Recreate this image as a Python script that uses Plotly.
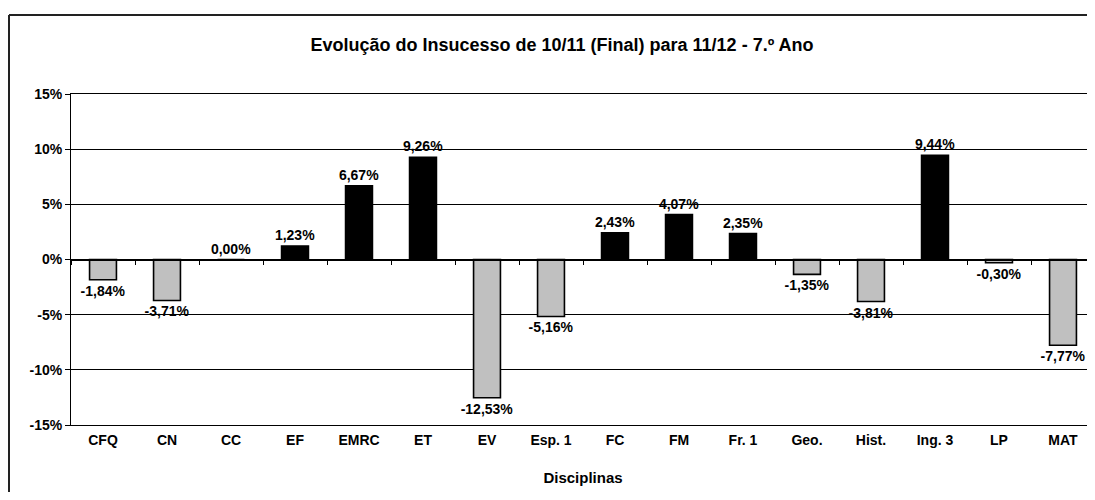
import plotly.graph_objects as go

categories = ["CFQ", "CN", "CC", "EF", "EMRC", "ET", "EV", "Esp. 1", "FC", "FM",
              "Fr. 1", "Geo.", "Hist.", "Ing. 3", "LP", "MAT"]
values = [-1.84, -3.71, 0.00, 1.23, 6.67, 9.26, -12.53, -5.16, 2.43, 4.07,
          2.35, -1.35, -3.81, 9.44, -0.30, -7.77]
y_tickvals = [-15, -10, -5, 0, 5, 10, 15]
y_ticktext = ["-15%", "-10%", "-5%", "0%", "5%", "10%", "15%"]

labels = [f"{v:.2f}%".replace(".", ",") for v in values]
colors = ["#000000" if v >= 0 else "#C0C0C0" for v in values]

FONT = "Liberation Sans, Arial, sans-serif"

fig = go.Figure()
fig.add_trace(go.Bar(
    x=categories, y=values, width=0.42,
    marker=dict(color=colors, line=dict(color="#000000", width=1.6)),
    text=labels, textposition="outside", cliponaxis=False, constraintext="none",
    textfont=dict(family=FONT, size=14, color="#000000", weight="bold"),
    showlegend=False, hoverinfo="skip",
))
fig.add_trace(go.Scatter(
    x=categories, y=values, xaxis="x2", mode="markers",
    marker=dict(opacity=0), showlegend=False, hoverinfo="skip",
))

# page body has an 8px margin; the figure sits at (8, 8)
OFF = 8
W, H = 1095 - OFF, 500 - 2 * OFF
ml, mr, mt = 71 - OFF, 0, 94 - OFF
mb = H - (425 - OFF)
pw, ph = W - ml - mr, H - mt - mb

# chart-area frame (top and left edges visible in the reference)
fx0 = (9 - 71) / pw
fy1 = 1 + (94 - 15) / ph
frame = dict(color="#222222", width=2)

fig.update_layout(
    width=W, height=H,
    margin=dict(l=ml, r=mr, t=mt, b=mb),
    paper_bgcolor="white", plot_bgcolor="white",
    font=dict(family=FONT, color="#000000"),
    title=dict(text="Evolução do Insucesso de 10/11 (Final) para 11/12 - 7.º Ano",
               font=dict(family=FONT, size=18, weight="bold", color="#000000"),
               x=(562 - OFF) / W, xref="container", xanchor="center",
               y=1 - (45 - OFF) / H, yref="container", yanchor="middle"),
    xaxis=dict(type="category", categoryorder="array", categoryarray=categories,
               range=[-0.5, 15.5], showgrid=False, zeroline=False,
               showline=True, mirror=True, linecolor="#000000", linewidth=1,
               ticks="outside", ticklen=2, tickcolor="rgba(0,0,0,0)",
               tickfont=dict(family=FONT, size=14, weight="bold", color="#000000"),
               title=dict(text="Disciplinas", standoff=25,
                          font=dict(family=FONT, size=15, weight="bold", color="#000000"))),
    xaxis2=dict(type="category", categoryorder="array", categoryarray=categories,
                range=[-0.5, 15.5], overlaying="x", anchor="free", position=0.5,
                side="bottom", showgrid=False, zeroline=False,
                showline=True, linecolor="#000000", linewidth=1.5,
                ticks="outside", ticklen=5, tickcolor="#000000", tickson="boundaries",
                showticklabels=False),
    yaxis=dict(range=[-15, 15], tickvals=y_tickvals, ticktext=y_ticktext,
               showgrid=True, gridcolor="#000000", gridwidth=1, zeroline=False,
               showline=True, linecolor="#000000", linewidth=1,
               ticks="outside", ticklen=5, tickcolor="#000000",
               tickfont=dict(family=FONT, size=14, weight="bold", color="#000000")),
    shapes=[
        dict(type="line", xref="paper", yref="paper", x0=fx0, x1=1.0,
             y0=fy1, y1=fy1, line=frame, layer="below"),
        dict(type="line", xref="paper", yref="paper", x0=fx0, x1=fx0,
             y0=fy1, y1=-mb / ph, line=frame, layer="below"),
    ],
)

fig.write_html("out.html")
